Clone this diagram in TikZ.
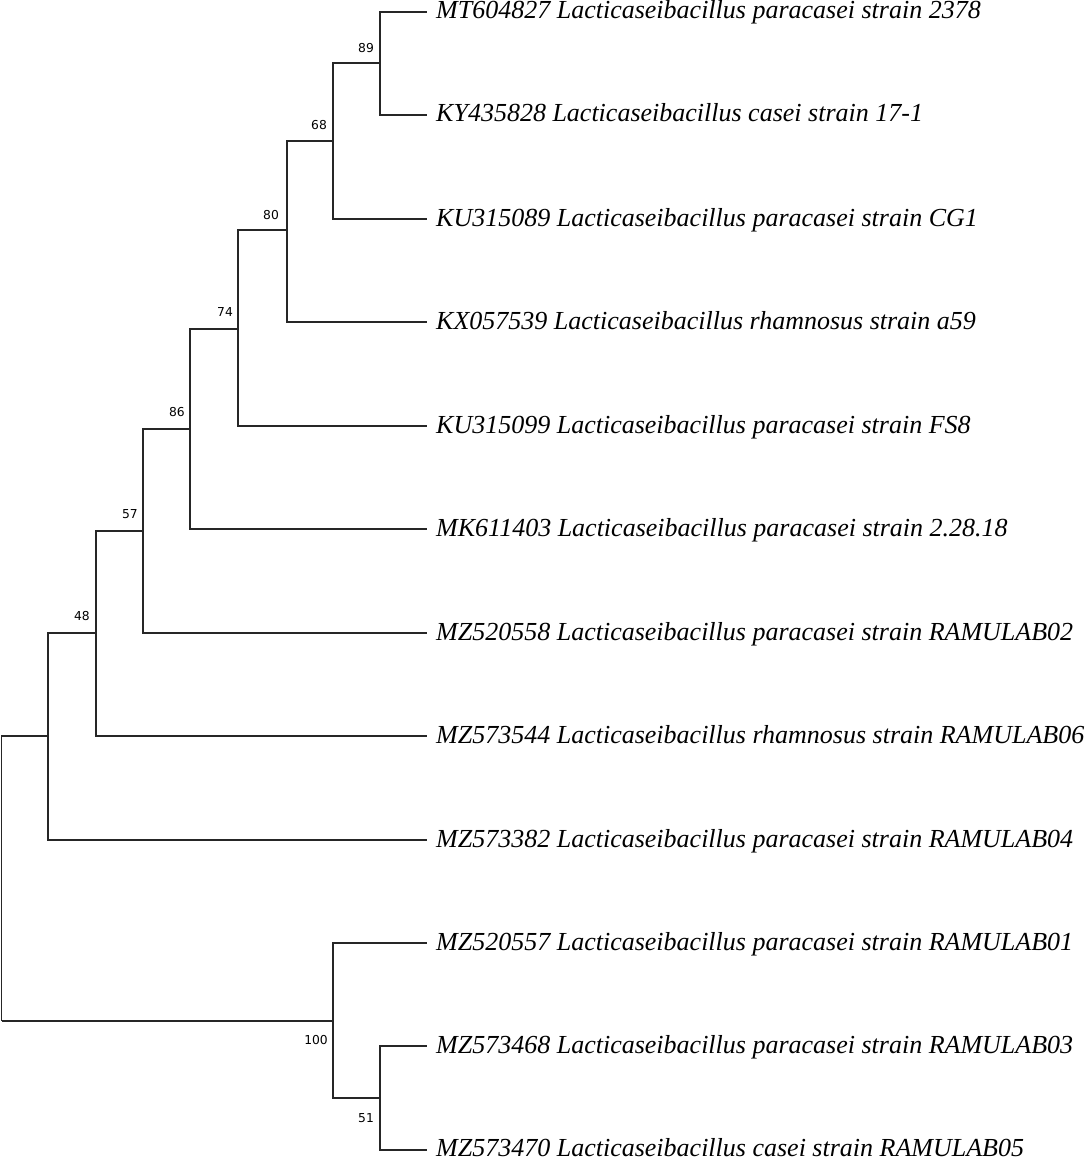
\documentclass[tikz,border=0pt]{standalone}
\usepackage{fontspec}
\setmainfont{Liberation Serif}
\newfontfamily\labfont{DejaVu Sans}
\begin{document}
\begin{tikzpicture}[x=1pt,y=-1pt,
  branch/.style={line width=1.3pt,color=black!85},
  leaf/.style={anchor=base west,inner sep=0pt,font=\fontsize{26}{26}\selectfont\itshape},
  boot/.style={font=\labfont\fontsize{12.3}{12.3}\selectfont,inner sep=0pt}]
\useasboundingbox (0,0) rectangle (1084,1158);
% internal nodes
\coordinate (A) at (1.5,1021);
\coordinate (B) at (48,736);
\coordinate (C) at (96,633);
\coordinate (D) at (143,531);
\coordinate (E) at (190,429);
\coordinate (F) at (238,329);
\coordinate (G) at (287,230);
\coordinate (H) at (333,141);
\coordinate (I) at (380,63);
\coordinate (J) at (333,1021);
\coordinate (K) at (380,1098);
% leaf ends
\foreach \n/\y in {1/12,2/115,3/219,4/322,5/426,6/529,7/633,8/736,9/840,10/943,11/1046,12/1150}
  \coordinate (e\n) at (427,\y);
% leaf labels
\node[leaf] (L1) at (436,19) {MT604827 Lacticaseibacillus paracasei strain 2378};
\node[leaf] (L2) at (436,122) {KY435828 Lacticaseibacillus casei strain 17-1};
\node[leaf] (L3) at (436,226) {KU315089 Lacticaseibacillus paracasei strain CG1};
\node[leaf] (L4) at (436,329) {KX057539 Lacticaseibacillus rhamnosus strain a59};
\node[leaf] (L5) at (436,433) {KU315099 Lacticaseibacillus paracasei strain FS8};
\node[leaf] (L6) at (436,536) {MK611403 Lacticaseibacillus paracasei strain 2.28.18};
\node[leaf] (L7) at (436,640) {MZ520558 Lacticaseibacillus paracasei strain RAMULAB02};
\node[leaf] (L8) at (436,743) {MZ573544 Lacticaseibacillus rhamnosus strain RAMULAB06};
\node[leaf] (L9) at (436,847) {MZ573382 Lacticaseibacillus paracasei strain RAMULAB04};
\node[leaf] (L10) at (436,950) {MZ520557 Lacticaseibacillus paracasei strain RAMULAB01};
\node[leaf] (L11) at (436,1053) {MZ573468 Lacticaseibacillus paracasei strain RAMULAB03};
\node[leaf] (L12) at (436,1156) {MZ573470 Lacticaseibacillus casei strain RAMULAB05};
% branches
\draw[branch] (A) |- (B);
\draw[branch] (A) |- (J);
\draw[branch] (B) |- (C);
\draw[branch] (B) |- (e9);
\draw[branch] (C) |- (D);
\draw[branch] (C) |- (e8);
\draw[branch] (D) |- (E);
\draw[branch] (D) |- (e7);
\draw[branch] (E) |- (F);
\draw[branch] (E) |- (e6);
\draw[branch] (F) |- (G);
\draw[branch] (F) |- (e5);
\draw[branch] (G) |- (H);
\draw[branch] (G) |- (e4);
\draw[branch] (H) |- (I);
\draw[branch] (H) |- (e3);
\draw[branch] (I) |- (e1);
\draw[branch] (I) |- (e2);
\draw[branch] (J) |- (e10);
\draw[branch] (J) |- (K);
\draw[branch] (K) |- (e11);
\draw[branch] (K) |- (e12);
% bootstrap values
\node[boot] (b89) at (366,48) {89};
\node[boot] (b68) at (319,125) {68};
\node[boot] (b80) at (271,215) {80};
\node[boot] (b74) at (225,312) {74};
\node[boot] (b86) at (177,412) {86};
\node[boot] (b57) at (130,514) {57};
\node[boot] (b48) at (82,616) {48};
\node[boot] (b100) at (316,1040) {100};
\node[boot] (b51) at (366,1118) {51};
\end{tikzpicture}
\end{document}
